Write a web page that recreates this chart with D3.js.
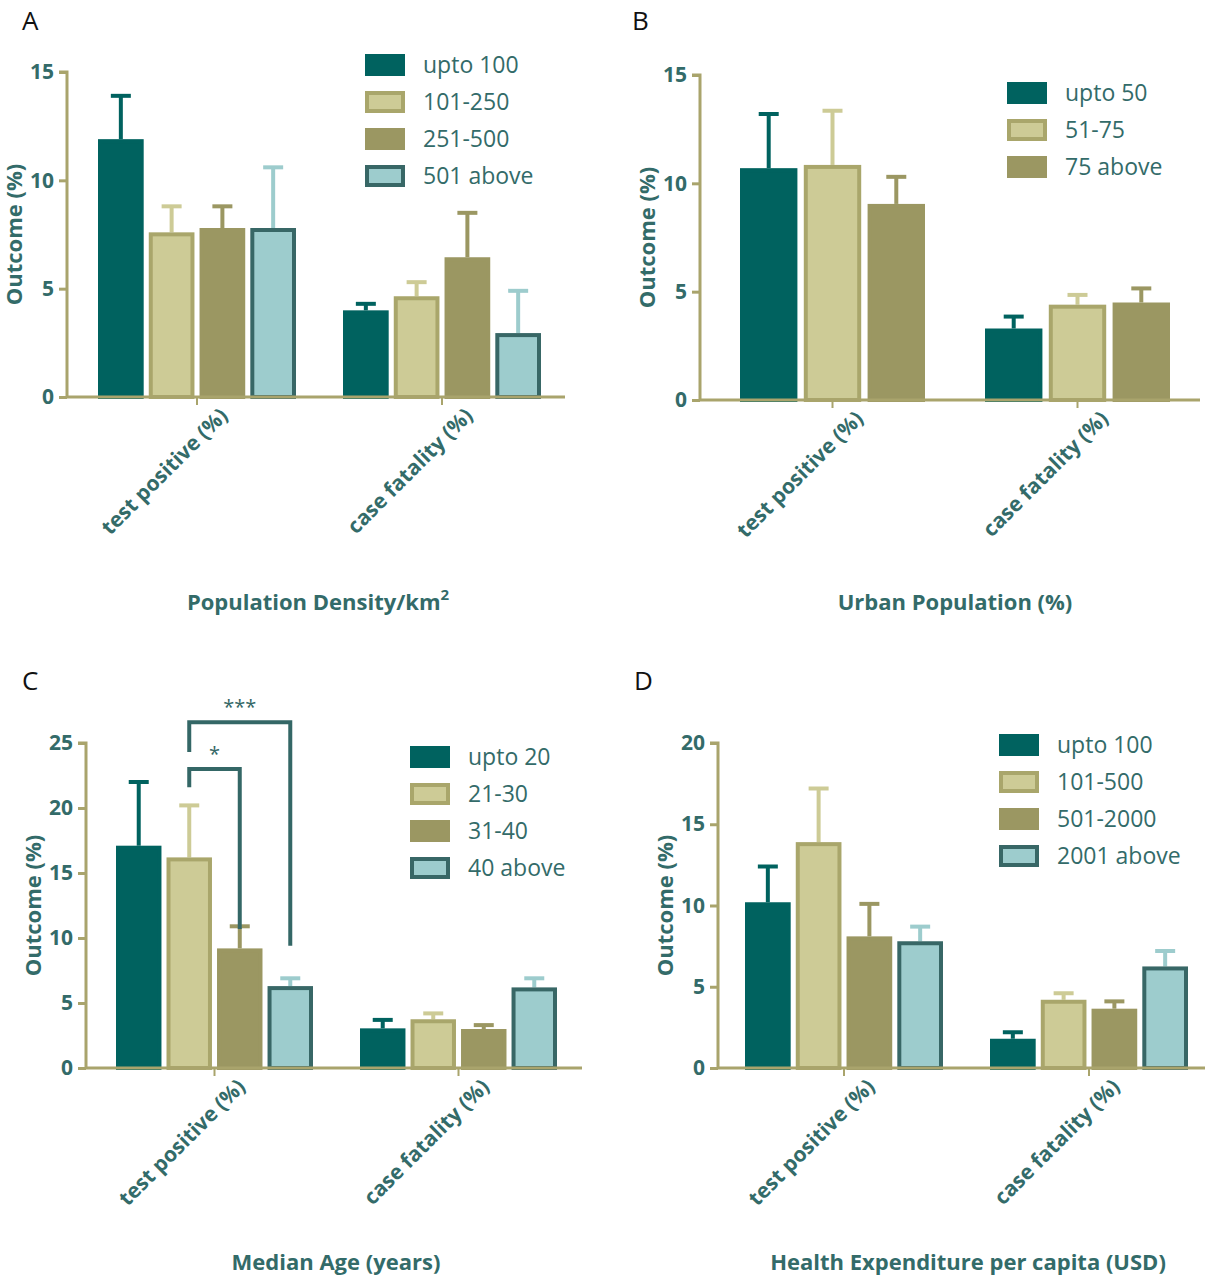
<!DOCTYPE html>
<html><head><meta charset="utf-8">
<script src="https://cdn.jsdelivr.net/npm/d3@7"></script>
<style>body{margin:0;background:#fff}text{font-family:"Open Sans","DejaVu Sans",sans-serif}</style>
</head><body><svg id="c" width="1215" height="1280"></svg>
<script>
const categories = ["test positive (%)", "case fatality (%)"];
// Panel A
const seriesA = ["upto 100", "101-250", "251-500", "501 above"];
const meanA = [[11.9, 7.6, 7.8, 7.8], [4.0, 4.65, 6.45, 2.95]];
const upperA = [[13.9, 8.8, 8.8, 10.6], [4.3, 5.3, 8.5, 4.9]];
const ticksA = [0, 5, 10, 15];
// Panel B
const seriesB = ["upto 50", "51-75", "75 above"];
const meanB = [[10.7, 10.85, 9.05], [3.3, 4.4, 4.5]];
const upperB = [[13.2, 13.35, 10.3], [3.85, 4.85, 5.15]];
const ticksB = [0, 5, 10, 15];
// Panel C
const seriesC = ["upto 20", "21-30", "31-40", "40 above"];
const meanC = [[17.1, 16.2, 9.2, 6.3], [3.05, 3.75, 3.0, 6.2]];
const upperC = [[22.0, 20.2, 10.9, 6.9], [3.7, 4.2, 3.3, 6.9]];
const ticksC = [0, 5, 10, 15, 20, 25];
// Panel D
const seriesD = ["upto 100", "101-500", "501-2000", "2001 above"];
const meanD = [[10.2, 13.9, 8.1, 7.8], [1.8, 4.2, 3.65, 6.25]];
const upperD = [[12.4, 17.2, 10.1, 8.7], [2.2, 4.6, 4.1, 7.2]];
const ticksD = [0, 5, 10, 15, 20];

const styles = [
  {fill:"#00625f", stroke:"#00625f", err:"#00625f"},
  {fill:"#cdcb96", stroke:"#a9a66b", err:"#cdcb96"},
  {fill:"#9b9762", stroke:"#9b9762", err:"#9b9762"},
  {fill:"#9dcccd", stroke:"#386766", err:"#9dcccd"}
];
const axisCol = "#a9a46c", txtCol = "#336b69";
const svg = d3.select("#c");

function panel(o){
  const g = svg.append("g");
  const y = d3.scaleLinear().domain([0, o.ymax]).range([o.y0, o.ytop]);
  const x0 = d3.scaleBand().domain(categories).range([o.gx0, o.gx0 + o.gstep + o.gw])
    .paddingInner((o.gstep - o.gw) / o.gstep).paddingOuter(0);
  const x1 = d3.scaleBand().domain(o.series).range([0, x0.bandwidth()]).paddingInner(0.1);
  categories.forEach((c, ci) => {
    o.series.forEach((s, si) => {
      const st = styles[si];
      const bx = x0(c) + x1(s), bw = x1.bandwidth();
      const cx = bx + bw/2;
      g.append("line").attr("x1", cx).attr("x2", cx).attr("y1", y(o.mean[ci][si])).attr("y2", y(o.upper[ci][si]))
        .attr("stroke", st.err).attr("stroke-width", 4);
      g.append("line").attr("x1", cx-10).attr("x2", cx+10).attr("y1", y(o.upper[ci][si])).attr("y2", y(o.upper[ci][si]))
        .attr("stroke", st.err).attr("stroke-width", 4);
      g.append("rect").attr("x", bx+2).attr("y", y(o.mean[ci][si])+2).attr("width", bw-4)
        .attr("height", y(0)-y(o.mean[ci][si])-2).attr("fill", st.fill).attr("stroke", st.stroke).attr("stroke-width", 4);
    });
  });
  const ya = g.append("g").attr("transform", `translate(${o.xl},0)`)
    .call(d3.axisLeft(y).tickValues(o.ticks).tickSize(8).tickFormat(d3.format("d")));
  ya.select(".domain").attr("stroke", axisCol).attr("stroke-width", 3).attr("d", `M-8,${o.ytop}H0V${o.y0}`);
  ya.selectAll(".tick line").attr("stroke", axisCol).attr("stroke-width", 3);
  ya.selectAll(".tick text").attr("fill", txtCol).attr("font-size", 21).attr("font-weight", "bold").attr("dx", -2);
  const xa = g.append("g").attr("transform", `translate(0,${o.y0})`)
    .call(d3.axisBottom(x0).tickSize(8).tickFormat(""));
  xa.select(".domain").attr("stroke", axisCol).attr("stroke-width", 3).attr("d", `M${o.xl},0H${o.xend}`);
  xa.selectAll(".tick line").attr("stroke", axisCol).attr("stroke-width", 2);
  categories.forEach(c => {
    const cx = x0(c) + x0.bandwidth()/2;
    g.append("text").attr("transform", `translate(${cx+32},${o.y0+20}) rotate(-45)`).attr("text-anchor", "end")
      .attr("font-size", 21).attr("font-weight", "bold").attr("fill", txtCol).text(c);
  });
  g.append("text").attr("transform", `translate(${o.xl-45},${(o.y0+o.ytop)/2}) rotate(-90)`).attr("text-anchor", "middle")
    .attr("font-size", 22).attr("font-weight", "bold").attr("fill", txtCol).text("Outcome (%)");
  const t = g.append("text").attr("x", o.titleX).attr("y", o.titleY).attr("text-anchor", "middle")
    .attr("font-size", 22).attr("font-weight", "bold").attr("fill", txtCol).text(o.title);
  if (o.sup) t.append("tspan").attr("dy", -10).attr("font-size", 15).text("2");
  g.append("text").attr("x", o.lx).attr("y", o.ly).attr("font-size", 26).attr("fill", "#111").text(o.letter);
  o.series.forEach((s, si) => {
    const st = styles[si], ry = o.legY + si*37;
    g.append("rect").attr("x", o.legX+2).attr("y", ry-9).attr("width", 36).attr("height", 18)
      .attr("fill", st.fill).attr("stroke", st.stroke).attr("stroke-width", 4);
    g.append("text").attr("x", o.legX+58).attr("y", ry+8).attr("font-size", 23).attr("fill", txtCol).text(s);
  });
  return {g, y, x0, x1};
}

panel({series:seriesA, mean:meanA, upper:upperA, ticks:ticksA, ymax:15, y0:397, ytop:72, xl:67, xend:565,
  gx0:98, gw:198, gstep:245, title:"Population Density/km", sup:true, titleX:318, titleY:610, letter:"A", lx:22, ly:30, legX:365, legY:65});
panel({series:seriesB, mean:meanB, upper:upperB, ticks:ticksB, ymax:15, y0:400, ytop:75, xl:700, xend:1200,
  gx0:740, gw:185, gstep:245, title:"Urban Population (%)", titleX:955, titleY:610, letter:"B", lx:632, ly:30, legX:1007, legY:93});
const pc = panel({series:seriesC, mean:meanC, upper:upperC, ticks:ticksC, ymax:25, y0:1068, ytop:743, xl:86, xend:582,
  gx0:116, gw:197, gstep:244, title:"Median Age (years)", titleX:336, titleY:1270, letter:"C", lx:22, ly:690, legX:410, legY:757});
panel({series:seriesD, mean:meanD, upper:upperD, ticks:ticksD, ymax:20, y0:1068, ytop:743, xl:718, xend:1205,
  gx0:745, gw:198, gstep:245, title:"Health Expenditure per capita (USD)", titleX:968, titleY:1270, letter:"D", lx:634, ly:690, legX:999, legY:745});

// significance brackets (panel C)
const brackets = [{from:1, to:2, ylo:21.6, yhi:23.0, yend:10.7, label:"*"}, {from:1, to:3, ylo:24.3, yhi:26.6, yend:9.4, label:"***"}];
brackets.forEach(b => {
  const c = categories[0];
  const xa = pc.x0(c) + pc.x1(seriesC[b.from]) + pc.x1.bandwidth()/2;
  const xb = pc.x0(c) + pc.x1(seriesC[b.to]) + pc.x1.bandwidth()/2;
  pc.g.append("path").attr("d", `M${xa},${pc.y(b.ylo)}V${pc.y(b.yhi)}H${xb}V${pc.y(b.yend)}`)
    .attr("fill", "none").attr("stroke", "#346766").attr("stroke-width", 4);
  pc.g.append("text").attr("x", (xa+xb)/2).attr("y", pc.y(b.yhi)-8).attr("text-anchor", "middle")
    .attr("font-size", 20).attr("fill", "#346766").text(b.label);
});
</script></body></html>
